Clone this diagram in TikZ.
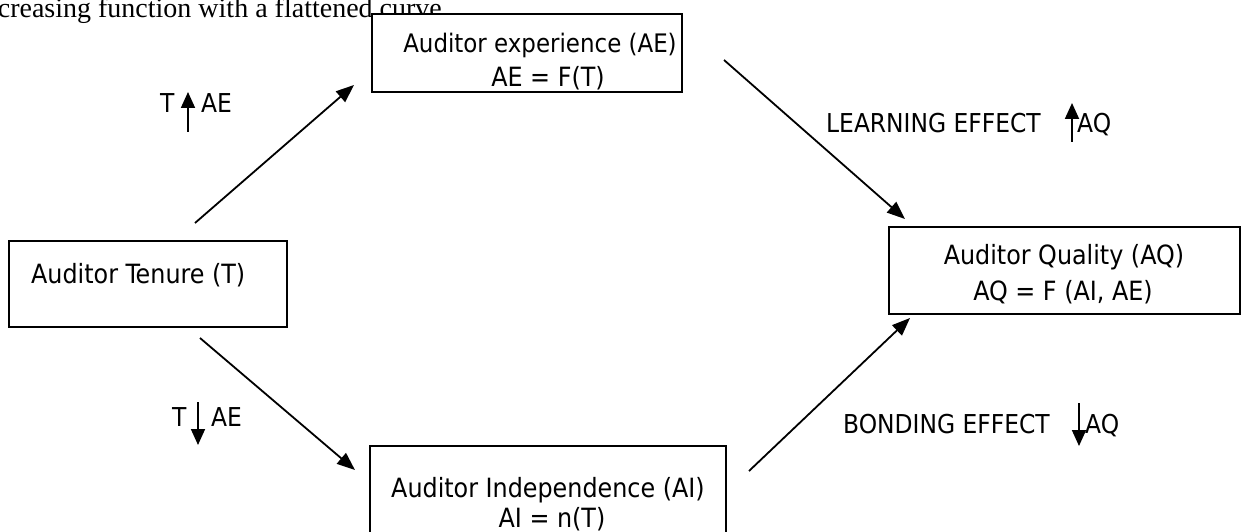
\documentclass[tikz,border=0pt]{standalone}
\usepackage{fontspec}
\setmainfont{DejaVu Sans Condensed}
\newfontfamily\serifface{Liberation Serif}
\usetikzlibrary{arrows.meta}
\begin{document}
\begin{tikzpicture}[x=1pt,y=-1pt,
  boxline/.style={draw=black,line width=1.8pt,fill=white},
  txt/.style={inner sep=0pt,anchor=base,font=\fontsize{26.5}{30}\selectfont},
  lbl/.style={inner sep=0pt,anchor=base west,font=\fontsize{26}{30}\selectfont},
  conn/.style={line width=1.8pt,-{Triangle[length=18pt,width=14pt]}},
  updown/.style={line width=1.8pt,-{Triangle[length=16pt,width=14pt]}}]
\useasboundingbox (0,0) rectangle (1242,532);
% top serif text (cut)
\node[inner sep=0pt,anchor=base east,font=\serifface\fontsize{28}{30}\selectfont] (top) at (442,18) {creasing function with a flattened curve};
% boxes
\path[boxline] (372,14) rectangle (682,92);
\node[txt,font=\fontsize{25.5}{30}\selectfont] (AE1) at (540,53) {Auditor experience (AE)};
\node[txt] (AE2) at (548,87) {AE = F(T)};
\path[boxline] (9,241) rectangle (287,327);
\node[txt,anchor=base west] (T) at (31,283) {Auditor Tenure (T)};
\path[boxline] (889,227) rectangle (1240,314);
\node[txt] (AQ1) at (1064,264) {Auditor Quality (AQ)};
\node[txt] (AQ2) at (1063,300) {AQ = F (AI, AE)};
\path[boxline] (370,446) rectangle (726,545);
\node[txt] (AI1) at (548,497) {Auditor Independence (AI)};
\node[txt] (AI2) at (552,527) {AI = n(T)};
% connector ends
\coordinate (c1s) at (195,223); \coordinate (c1e) at (354,85);
\coordinate (c2s) at (200,338); \coordinate (c2e) at (355,470);
\coordinate (c3s) at (724,60);  \coordinate (c3e) at (905,219);
\coordinate (c4s) at (749,471); \coordinate (c4e) at (910,318);
\draw[conn] (c1s) -- (c1e);
\draw[conn] (c2s) -- (c2e);
\draw[conn] (c3s) -- (c3e);
\draw[conn] (c4s) -- (c4e);
% labels
\node[lbl] (l1a) at (160,113) {T};
\coordinate (u1s) at (188,132); \coordinate (u1e) at (188,92);
\draw[updown] (u1s) -- (u1e);
\node[lbl] (l1b) at (201,113) {AE};
\node[lbl] (l2a) at (172,426) {T};
\coordinate (u2s) at (198,402); \coordinate (u2e) at (198,445);
\draw[updown] (u2s) -- (u2e);
\node[lbl] (l2b) at (211,426) {AE};
\node[lbl] (l3a) at (826,132) {LEARNING EFFECT};
\coordinate (u3s) at (1072,142); \coordinate (u3e) at (1072,103);
\draw[updown] (u3s) -- (u3e);
\node[lbl] (l3b) at (1077,132) {AQ};
\node[lbl] (l4a) at (843,433) {BONDING EFFECT};
\coordinate (u4s) at (1079,403); \coordinate (u4e) at (1079,446);
\draw[updown] (u4s) -- (u4e);
\node[lbl] (l4b) at (1085,433) {AQ};
\end{tikzpicture}
\end{document}
